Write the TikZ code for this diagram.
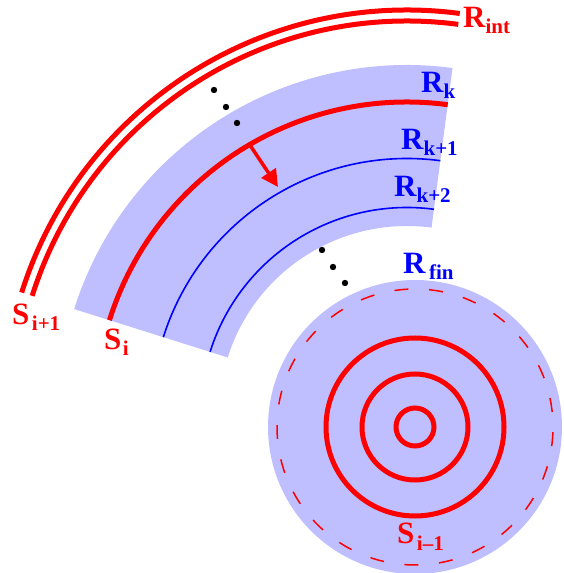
\documentclass[tikz,border=0pt]{standalone}
\usepackage{fontspec}
\setmainfont{Liberation Serif}
\usetikzlibrary{calc,arrows.meta}
\definecolor{bandfill}{RGB}{191,191,255}
\newcommand\lsub[2][0pt]{\kern#1\raisebox{-6pt}{\fontsize{21}{21}\selectfont #2}}
\begin{document}
\begin{tikzpicture}[x=1pt,y=1pt,
  redarc/.style={draw=red,line width=5pt},
  bluearc/.style={draw=blue,line width=1.6pt},
  dashcircle/.style={draw=red,line width=1.5pt,dash pattern=on 14pt off 20.7pt,dash phase=19.5pt},
  dotsty/.style={fill=black},
  lab/.style={inner sep=0pt,anchor=base west,font=\fontsize{31}{31}\selectfont\bfseries},
  arrowsty/.style={draw=red,line width=3.5pt,-{Triangle[length=17pt,width=17pt]}}]
\useasboundingbox (0,0) rectangle (563,573);
\coordinate (O) at (407,159);
\coordinate (D) at (415,146);
% shaded sector
\fill[bandfill] ($(O)+(82.5:349)$) arc[start angle=82.5,end angle=162.5,radius=349pt]
  -- ($(O)+(162.5:188)$) arc[start angle=162.5,end angle=82.5,radius=188pt] -- cycle;
% arcs
\draw[redarc] ($(O)+(162.5:404)$) arc[start angle=162.5,end angle=82.5,radius=404pt];
\draw[redarc] ($(O)+(162.5:393)$) arc[start angle=162.5,end angle=82.5,radius=393pt];
\draw[redarc] ($(O)+(162.5:312)$) arc[start angle=162.5,end angle=82.5,radius=312pt];
\draw[bluearc] ($(O)+(162.5:255.5)$) arc[start angle=162.5,end angle=82.5,radius=255.5pt];
\draw[bluearc] ($(O)+(162.5:206.5)$) arc[start angle=162.5,end angle=82.5,radius=206.5pt];
% arrow
\coordinate (as) at ($(O)+(120.3:312)$);
\coordinate (at) at (278,386);
\draw[arrowsty] (as) -- (at);
% disc
\fill[bandfill] (D) circle[radius=147pt];
\draw[dashcircle] (D) circle[radius=138pt];
\draw[redarc] (D) circle[radius=89pt];
\draw[redarc] (D) circle[radius=53pt];
\draw[redarc] (D) circle[radius=19pt];
% dots
\fill[dotsty] (214,483) circle[radius=3.2pt];
\fill[dotsty] (226,466) circle[radius=3.2pt];
\fill[dotsty] (237,450) circle[radius=3.2pt];
\fill[dotsty] (322,323) circle[radius=3.2pt];
\fill[dotsty] (333,306) circle[radius=3.2pt];
\fill[dotsty] (345,290) circle[radius=3.2pt];
% labels
\node[lab,red] (lrint) at (463,545) {R\lsub{int}};
\node[lab,blue] (lrk) at (421,480) {R\lsub{k}};
\node[lab,blue] (lrk1) at (401,423) {R\lsub[0pt]{k+1}};
\node[lab,blue] (lrk2) at (394,376) {R\lsub{k+2}};
\node[lab,blue] (lrfin) at (403,299) {R\lsub[3.5pt]{fin}};
\node[lab,red] (lsi1) at (12,248) {S\lsub[2.5pt]{i+1}};
\node[lab,red] (lsi) at (104,223) {S\lsub[1.5pt]{i}};
\node[lab,red] (lsim) at (397,29) {S\lsub[2.5pt]{i–1}};
\end{tikzpicture}
\end{document}
